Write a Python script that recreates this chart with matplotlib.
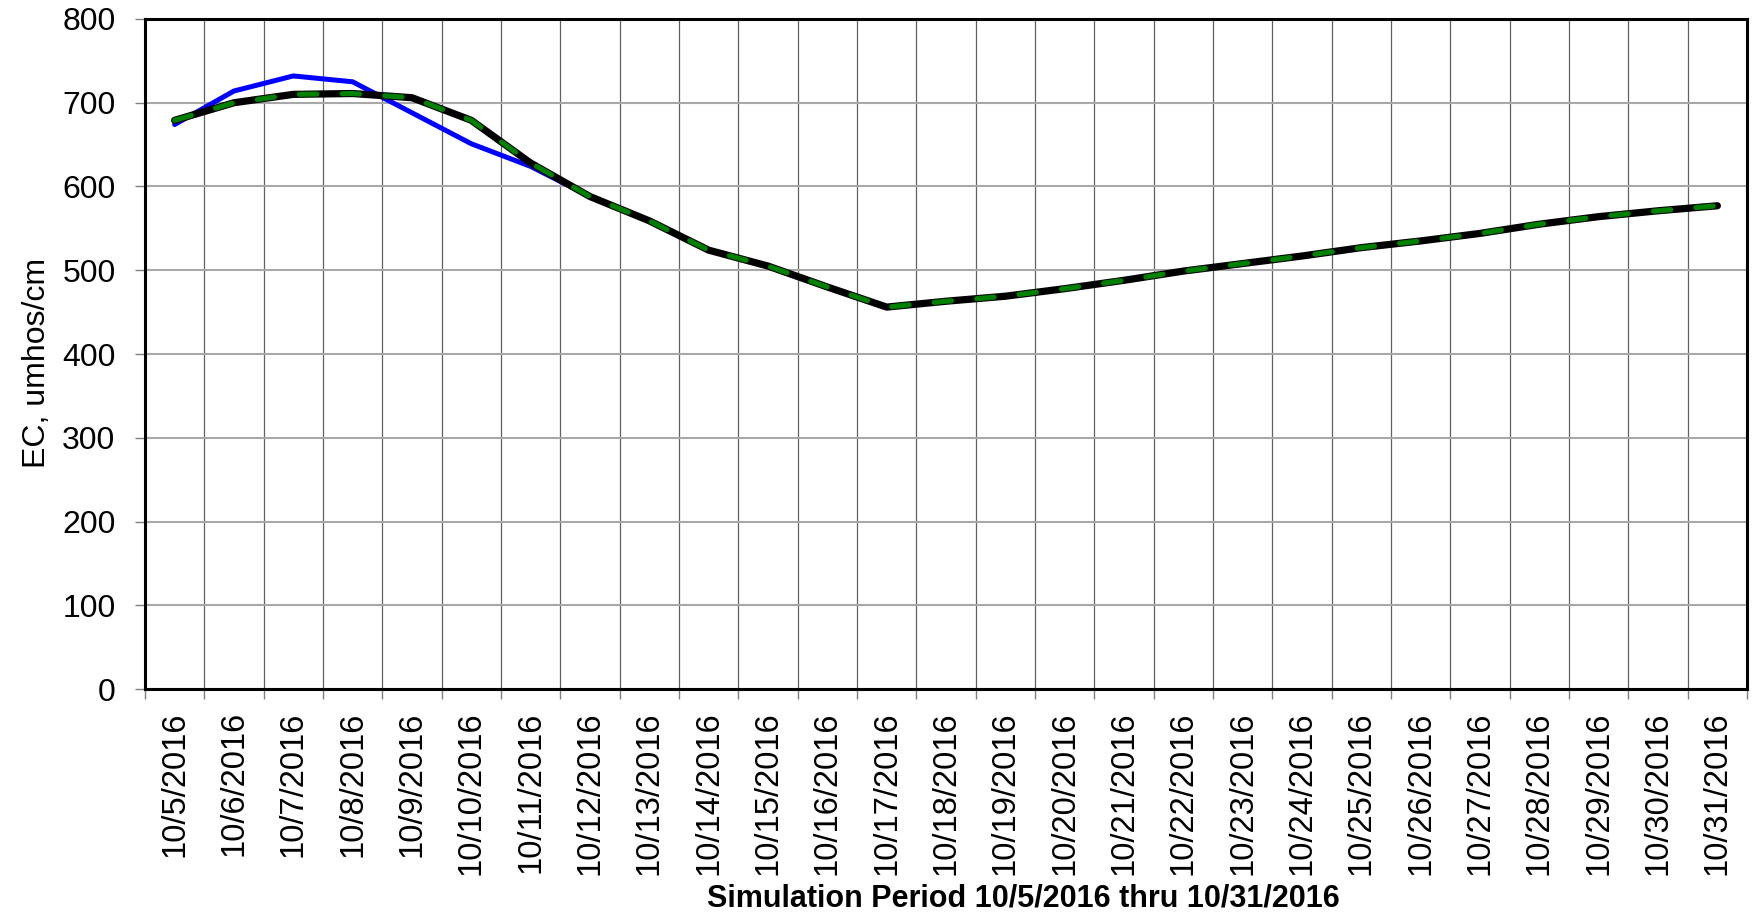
import numpy as np
import matplotlib
matplotlib.use("Agg")
import matplotlib.pyplot as plt
from matplotlib.ticker import FixedLocator, MultipleLocator

plt.rcParams['font.family'] = ['Liberation Sans', 'DejaVu Sans']

# categories: one per day of the simulation period
dates = [f"10/{d}/2016" for d in range(5, 32)]

# EC, umhos/cm
ec_blue = [674, 714, 732, 725, 688, 651, 624, 588, 559, 524, 505, 480, 456,
           463, 469, 478, 488, 499, 508, 517, 527, 535, 544, 555, 564, 571, 577]
ec_base = [679, 700, 710, 711, 706, 679, 628, 588, 559, 524, 505, 480, 456,
           463, 469, 478, 488, 499, 508, 517, 527, 535, 544, 555, 564, 571, 577]

x = np.arange(len(dates))

fig = plt.figure(figsize=(17.53, 9.17), dpi=100)
ax = fig.add_axes([0.0827, 0.2486, 0.9966 - 0.0827, 0.9793 - 0.2486])

ax.plot(x, ec_blue, color='#0000ff', lw=3.6, solid_capstyle='round', zorder=3)
ax.plot(x, ec_base, color='black', lw=5.2, solid_capstyle='round', zorder=4)
ax.plot(x, ec_base, color='#008000', lw=3.7, dashes=(3.4, 4.9),
        dash_capstyle='round', zorder=5)

ax.set_xlim(-0.5, len(dates) - 0.5)
ax.set_ylim(0, 800)

# labels at day centres, ticks and grid at day boundaries
ax.set_xticks(x)
ax.set_xticklabels(dates, rotation=90, fontsize=23.5)
ax.xaxis.set_minor_locator(FixedLocator(np.arange(-0.5, len(dates), 1.0)))
ax.tick_params(axis='x', which='major', length=0, pad=16)
ax.tick_params(axis='x', which='minor', length=7.2, width=1.0, color='#808080', direction='out')
ax.yaxis.set_major_locator(MultipleLocator(100))
ax.tick_params(axis='y', which='major', length=7.2, width=1.0, color='#808080',
               labelsize=23, pad=14)

ax.grid(True, axis='x', which='minor', color='#606060', lw=0.9)
ax.grid(True, axis='y', which='major', color='#a8a8a8', lw=1.5)
ax.set_axisbelow(True)

for s in ax.spines.values():
    s.set_linewidth(2.2)
    s.set_color('black')

ax.set_ylabel('EC, umhos/cm', fontsize=23)
ax.yaxis.set_label_coords(-0.058, 0.487)
ax.set_xlabel('Simulation Period 10/5/2016 thru 10/31/2016', fontsize=22, fontweight='bold')
ax.xaxis.set_label_coords(0.548, -0.29)

fig.savefig('out.png', dpi=100)
